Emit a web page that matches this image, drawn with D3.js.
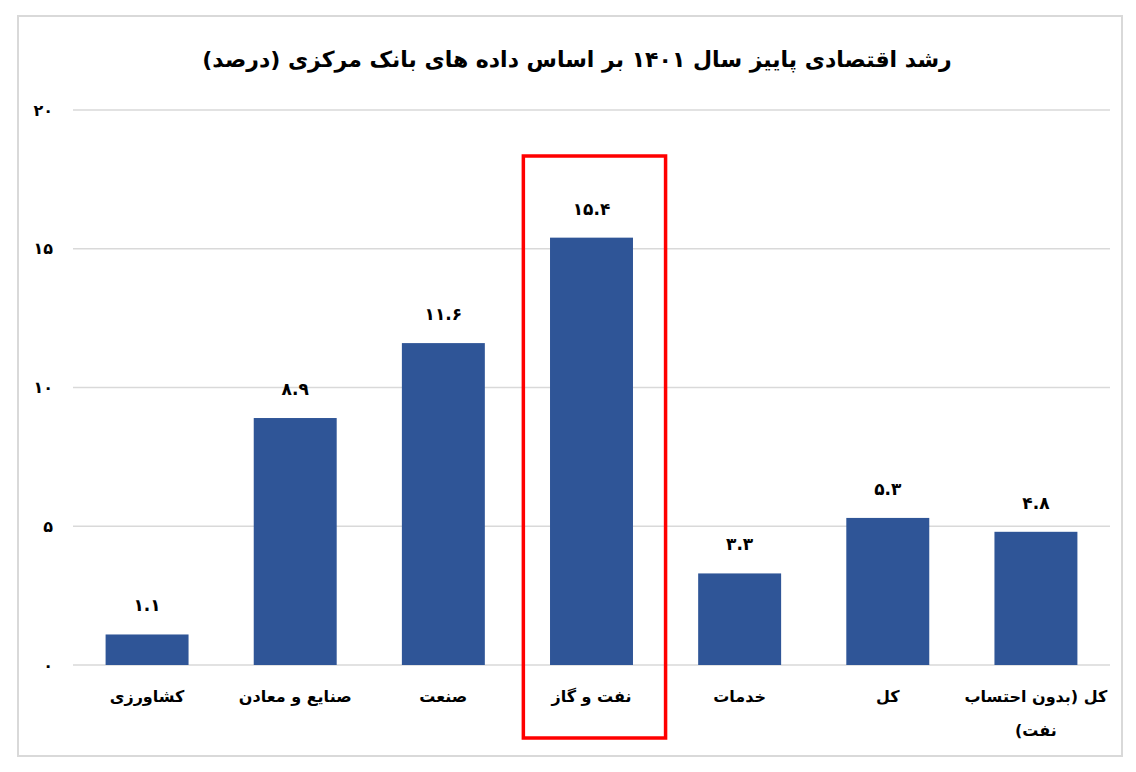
<!DOCTYPE html>
<html>
<head>
<meta charset="utf-8">
<script src="https://cdn.jsdelivr.net/npm/d3@7"></script>
<style>
  body { margin: 0; background: #fff; }
  text { font-family: "DejaVu Sans", sans-serif; font-weight: bold; fill: #000; }
</style>
</head>
<body>
<svg width="1136" height="772"></svg>
<script>
// data
const CATEGORIES = ['کشاورزی', 'صنایع و معادن', 'صنعت', 'نفت و گاز', 'خدمات', 'کل', 'کل (بدون احتساب نفت)'];
const GROWTH = [1.1, 8.9, 11.6, 15.4, 3.3, 5.3, 4.8];
const Y_TICKS = [0, 5, 10, 15, 20];
const TITLE = 'رشد اقتصادی پاییز سال ۱۴۰۱ بر اساس داده های بانک مرکزی (درصد)';
const HIGHLIGHT = 'نفت و گاز';

const rows = CATEGORIES.map((c, i) => ({cat: c, value: GROWTH[i]}));

// latin digits -> persian digits
const fa = s => String(s).replace(/[0-9]/g, d => '۰۱۲۳۴۵۶۷۸۹'[+d]);

const svg = d3.select('svg');

// outer frame
svg.append('rect')
    .attr('x', 18).attr('y', 16)
    .attr('width', 1104).attr('height', 740)
    .attr('fill', '#fff')
    .attr('stroke', '#d9d9d9')
    .attr('stroke-width', 2);

svg.append('text')
    .attr('x', 577).attr('y', 67)
    .attr('text-anchor', 'middle')
    .attr('direction', 'rtl')
    .style('font-size', '22px')
    .text(TITLE);

const xScale = d3.scaleBand()
    .domain(CATEGORIES)
    .range([73, 1110])
    .paddingInner(0.44)
    .paddingOuter(0.22);

const yScale = d3.scaleLinear()
    .domain([0, 20])
    .range([665, 110]);

// gridlines
svg.append('g')
    .selectAll('line')
    .data(Y_TICKS)
    .enter()
    .append('line')
    .attr('x1', 73).attr('x2', 1110)
    .attr('y1', d => yScale(d)).attr('y2', d => yScale(d))
    .attr('stroke', '#d9d9d9')
    .attr('stroke-width', 1.5);

// y axis labels
const yAxis = svg.append('g')
    .attr('transform', 'translate(53,0)')
    .call(d3.axisLeft(yScale).tickValues(Y_TICKS).tickSize(0).tickPadding(0).tickFormat(fa));
yAxis.select('.domain').remove();
yAxis.selectAll('text')
    .style('font-size', '16px')
    .style('font-family', '"DejaVu Sans", sans-serif');

// bars
svg.selectAll('.bar')
    .data(rows)
    .enter()
    .append('rect')
    .classed('bar', true)
    .attr('x', d => xScale(d.cat))
    .attr('y', d => yScale(d.value))
    .attr('width', xScale.bandwidth())
    .attr('height', d => yScale(0) - yScale(d.value))
    .attr('fill', '#2f5597');

// value labels
svg.selectAll('.val')
    .data(rows)
    .enter()
    .append('text')
    .classed('val', true)
    .attr('x', d => xScale(d.cat) + xScale.bandwidth() / 2)
    .attr('y', d => yScale(d.value) - 23)
    .attr('text-anchor', 'middle')
    .style('font-size', '17px')
    .text(d => fa(d.value));

// category labels, wrapped to the band step
function wrap(sel, width) {
    sel.each(function() {
        const t = d3.select(this);
        const words = t.text().split(' ');
        const x = t.attr('x');
        t.text(null);
        let line = [];
        let tspan = t.append('tspan').attr('x', x).attr('dy', 0);
        words.forEach(w => {
            line.push(w);
            tspan.text(line.join(' '));
            if (tspan.node().getComputedTextLength() > width && line.length > 1) {
                line.pop();
                tspan.text(line.join(' '));
                line = [w];
                tspan = t.append('tspan').attr('x', x).attr('dy', '2.1em').text(w);
            }
        });
    });
}

svg.selectAll('.cat')
    .data(CATEGORIES)
    .enter()
    .append('text')
    .classed('cat', true)
    .attr('x', d => xScale(d) + xScale.bandwidth() / 2)
    .attr('y', 702)
    .attr('text-anchor', 'middle')
    .attr('direction', 'rtl')
    .style('font-size', '16px')
    .text(d => d)
    .call(wrap, 145);

// red box around the highlighted category
const hx = xScale(HIGHLIGHT) + xScale.bandwidth() / 2;
svg.append('rect')
    .attr('x', hx - xScale.step() * 0.46)
    .attr('y', yScale(20) + 46)
    .attr('width', xScale.step() * 0.96)
    .attr('height', 738 - (yScale(20) + 46))
    .attr('fill', 'none')
    .attr('stroke', '#ff0000')
    .attr('stroke-width', 3.5);
</script>
</body>
</html>
